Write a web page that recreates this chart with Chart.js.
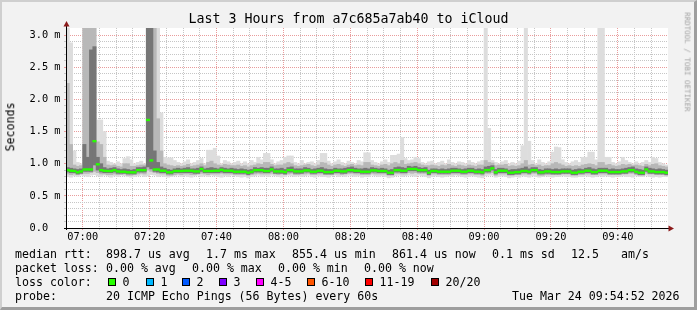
<!DOCTYPE html>
<html lang="en">
<head>
  <meta charset="UTF-8">
  <title>Last 3 Hours from a7c685a7ab40 to iCloud</title>
  <script src="https://cdn.jsdelivr.net/npm/chart.js"></script>
  <style>
    html, body { margin: 0; padding: 0; width: 697px; height: 310px; overflow: hidden; }
    #frame { position: absolute; left: 0; top: 0; width: 697px; height: 310px; box-sizing: border-box;
             background: #f2f2f2; border-style: solid; border-width: 2px 3px 3px 2px;
             border-color: #cfcfcf #9e9e9e #9e9e9e #cfcfcf; }
    #chart { position: absolute; left: 0; top: 0; }
    .t { position: absolute; font-family: 'DejaVu Sans Mono', monospace; font-size: 11.6px; line-height: 1; white-space: pre; color: #000; }
    .box { position: absolute; width: 8px; height: 8px; box-sizing: border-box; border: 1px solid #000; top: 278px; }
  </style>
</head>
<body>
  <div id="frame"></div>
  <canvas id="chart" width="697" height="310"></canvas>

  <div class="t" style="left:0; width:697px; text-align:center; top:12.4px; font-size:13.3px;">Last 3 Hours from a7c685a7ab40 to iCloud</div>
  <div class="t" style="left:10.5px; top:127px; transform:translate(-50%,-50%) rotate(-90deg);">Seconds</div>
  <div class="t" style="left:686.5px; top:62px; font-size:7.5px; color:#a4a4a4; transform:translate(-50%,-50%) rotate(90deg);">RRDTOOL / TOBI OETIKER</div>

  <!-- legend -->
  <div class="t" style="left:15px; top:249px;">median rtt:</div>
  <div class="t" style="left:106px; top:249px;">898.7 us avg</div>
  <div class="t" style="left:206px; top:249px;">1.7 ms max</div>
  <div class="t" style="left:292px; top:249px;">855.4 us min</div>
  <div class="t" style="left:392px; top:249px;">861.4 us now</div>
  <div class="t" style="left:492px; top:249px;">0.1 ms sd</div>
  <div class="t" style="left:571px; top:249px;">12.5</div>
  <div class="t" style="left:621px; top:249px;">am/s</div>

  <div class="t" style="left:15px; top:263px;">packet loss:</div>
  <div class="t" style="left:106px; top:263px;">0.00 % avg</div>
  <div class="t" style="left:192px; top:263px;">0.00 % max</div>
  <div class="t" style="left:278px; top:263px;">0.00 % min</div>
  <div class="t" style="left:364px; top:263px;">0.00 % now</div>

  <div class="t" style="left:15px; top:277px;">loss color:</div>
  <div id="lossLegend"></div>

  <div class="t" style="left:15px; top:290.8px;">probe:</div>
  <div class="t" style="left:106px; top:290.8px;">20 ICMP Echo Pings (56 Bytes) every 60s</div>
  <div class="t" style="left:512px; top:290.8px;">Tue Mar 24 09:54:52 2026</div>

  <script>
    // one value per minute, starting 06:55 (ms)
    const median = [
      0.90,0.89,0.886,0.866,0.88,0.91,0.91,0.91,1.35,0.99,
      0.90,0.89,0.886,0.886,0.90,0.88,0.875,0.875,0.866,0.866,
      0.866,0.90,0.90,0.90,1.68,1.05,0.91,0.91,0.89,0.89,
      0.866,0.866,0.886,0.886,0.886,0.89,0.89,0.89,0.88,0.88,
      0.917,0.886,0.886,0.886,0.89,0.89,0.905,0.89,0.89,0.89,
      0.875,0.875,0.875,0.875,0.86,0.875,0.90,0.90,0.90,0.886,
      0.886,0.91,0.88,0.88,0.88,0.87,0.90,0.90,0.88,0.88,
      0.88,0.895,0.895,0.875,0.875,0.89,0.89,0.87,0.87,0.87,
      0.89,0.89,0.88,0.88,0.90,0.90,0.89,0.89,0.875,0.875,
      0.875,0.895,0.895,0.886,0.886,0.886,0.86,0.86,0.90,0.90,
      0.89,0.89,0.917,0.917,0.917,0.90,0.90,0.90,0.86,0.886,
      0.886,0.875,0.875,0.875,0.875,0.89,0.89,0.89,0.875,0.875,
      0.89,0.89,0.875,0.875,0.866,0.90,0.90,0.928,0.866,0.89,
      0.89,0.89,0.86,0.86,0.87,0.87,0.886,0.886,0.875,0.90,
      0.90,0.866,0.866,0.88,0.88,0.87,0.87,0.87,0.88,0.88,
      0.88,0.86,0.86,0.875,0.875,0.89,0.89,0.87,0.87,0.89,
      0.89,0.89,0.87,0.87,0.87,0.87,0.88,0.88,0.90,0.90,
      0.875,0.86,0.86,0.91,0.88,0.88,0.87,0.87,0.87,0.86
    ];
    const smokeMin = [
      0.80,0.79,0.81,0.80,0.82,0.81,0.80,0.82,0.83,0.81,
      0.80,0.82,0.81,0.79,0.81,0.80,0.82,0.81,0.80,0.79,
      0.80,0.81,0.82,0.80,0.81,0.83,0.82,0.80,0.81,0.80,
      0.79,0.80,0.81,0.82,0.80,0.81,0.80,0.79,0.81,0.82,
      0.80,0.81,0.80,0.82,0.81,0.80,0.79,0.81,0.80,0.82,
      0.81,0.80,0.79,0.80,0.78,0.80,0.81,0.82,0.80,0.81,
      0.80,0.82,0.81,0.80,0.79,0.80,0.82,0.81,0.80,0.81,
      0.80,0.81,0.82,0.80,0.79,0.81,0.80,0.80,0.79,0.81,
      0.82,0.80,0.81,0.80,0.82,0.81,0.80,0.81,0.79,0.80,
      0.80,0.82,0.81,0.80,0.81,0.80,0.78,0.79,0.81,0.82,
      0.80,0.81,0.82,0.81,0.80,0.82,0.81,0.80,0.78,0.80,
      0.81,0.80,0.79,0.80,0.81,0.80,0.82,0.81,0.80,0.79,
      0.80,0.81,0.80,0.79,0.78,0.81,0.82,0.82,0.79,0.80,
      0.81,0.80,0.78,0.79,0.80,0.79,0.81,0.80,0.79,0.81,
      0.80,0.79,0.80,0.81,0.80,0.79,0.80,0.80,0.81,0.80,
      0.80,0.79,0.79,0.80,0.80,0.81,0.80,0.79,0.80,0.81,
      0.80,0.81,0.80,0.79,0.80,0.80,0.81,0.80,0.80,0.79,
      0.81,0.80,0.80,0.82,0.80,0.79,0.80,0.79,0.80,0.80
    ];
    const smokeMax = [
      3.3,2.88,1.2,1.02,1.0,3.3,3.3,3.3,3.3,1.68,
      1.68,1.5,1.04,1.02,1.0,1.03,1.0,1.08,1.11,1.06,
      1.0,1.02,1.04,1.0,3.3,3.3,3.3,3.3,1.79,1.1,
      1.09,1.09,1.05,1.02,1.0,1.03,1.06,1.0,1.02,1.05,
      1.08,1.0,1.21,1.21,1.24,1.12,1.0,1.05,1.03,1.0,
      1.02,1.04,1.0,1.03,1.0,1.05,1.02,1.1,1.06,1.16,
      1.16,1.06,1.0,1.03,1.05,1.1,1.12,1.12,1.02,1.0,
      1.05,1.0,1.02,1.03,1.0,1.05,1.16,1.16,1.04,1.0,
      1.03,1.06,1.02,1.0,1.04,1.02,1.0,1.05,1.03,1.17,
      1.17,1.05,1.02,1.0,1.03,1.06,1.02,1.13,1.13,1.15,
      1.41,1.08,1.05,1.06,1.1,1.08,1.02,1.0,1.03,1.04,
      1.0,1.02,1.04,1.0,1.06,1.02,1.0,1.03,1.02,1.0,
      1.05,1.02,1.0,1.03,1.05,3.3,1.55,1.05,1.02,1.0,
      1.03,1.05,1.0,1.02,1.0,1.04,1.28,3.3,1.35,1.05,
      1.0,1.06,1.02,1.0,1.03,1.18,1.26,1.25,1.06,1.02,
      1.0,1.03,1.05,1.02,1.1,1.1,1.18,1.18,1.06,3.3,
      3.3,1.1,1.1,1.02,1.0,1.03,1.1,1.05,1.02,1.0,
      1.03,1.0,1.02,1.05,1.02,1.1,1.08,1.02,1.0,0.98
    ];
    const bandLo = [
      0.84,0.83,0.84,0.83,0.84,0.85,0.85,0.86,0.88,0.86,
      0.84,0.84,0.83,0.83,0.84,0.83,0.83,0.84,0.82,0.82,
      0.83,0.84,0.85,0.84,0.90,0.88,0.86,0.85,0.84,0.84,
      0.82,0.82,0.83,0.84,0.83,0.84,0.84,0.83,0.83,0.84,
      0.85,0.84,0.83,0.84,0.84,0.84,0.85,0.84,0.84,0.84,
      0.83,0.83,0.83,0.83,0.82,0.83,0.84,0.85,0.84,0.84,
      0.84,0.85,0.84,0.83,0.84,0.83,0.84,0.85,0.83,0.83,
      0.84,0.84,0.85,0.83,0.83,0.84,0.84,0.83,0.83,0.83,
      0.84,0.84,0.83,0.84,0.85,0.85,0.84,0.84,0.83,0.83,
      0.83,0.85,0.84,0.84,0.84,0.84,0.82,0.82,0.85,0.85,
      0.84,0.84,0.86,0.85,0.86,0.85,0.85,0.85,0.82,0.84,
      0.84,0.83,0.83,0.83,0.83,0.84,0.84,0.84,0.83,0.83,
      0.84,0.84,0.83,0.83,0.82,0.85,0.85,0.86,0.82,0.84,
      0.84,0.84,0.82,0.82,0.83,0.83,0.84,0.84,0.83,0.85,
      0.85,0.82,0.82,0.83,0.83,0.83,0.83,0.83,0.84,0.84,
      0.84,0.82,0.82,0.83,0.83,0.84,0.84,0.83,0.83,0.84,
      0.84,0.84,0.83,0.83,0.83,0.83,0.84,0.84,0.85,0.85,
      0.83,0.82,0.82,0.85,0.84,0.84,0.83,0.83,0.83,0.82
    ];
    const bandHi = [
      2.25,1.30,0.98,0.96,0.97,3.30,3.30,3.30,3.30,1.34,
      1.30,1.10,0.98,0.97,0.98,0.96,0.95,1.00,1.00,0.96,
      0.96,0.97,0.98,0.98,3.30,3.30,3.30,1.70,1.20,1.00,
      0.98,0.97,0.96,0.97,0.96,0.97,0.99,0.96,0.97,0.98,
      1.00,0.97,1.02,1.04,1.00,0.98,0.97,0.99,0.98,0.97,
      0.97,0.98,0.96,0.97,0.95,0.97,0.98,1.00,0.99,1.02,
      1.02,0.99,0.97,0.98,0.98,1.00,1.02,1.00,0.97,0.96,
      0.97,0.98,0.99,0.97,0.96,0.98,1.02,1.01,0.98,0.96,
      0.98,0.99,0.97,0.96,0.98,0.99,0.97,0.98,0.97,1.02,
      1.02,0.98,0.97,0.96,0.98,0.99,0.97,1.00,1.02,1.00,
      1.05,0.99,1.00,1.01,1.02,1.00,0.98,0.97,0.97,0.98,
      0.97,0.96,0.98,0.97,0.99,0.97,0.96,0.98,0.97,0.96,
      0.98,0.97,0.96,0.98,0.98,1.05,1.02,1.01,0.97,0.98,
      0.98,0.99,0.96,0.97,0.96,0.97,1.00,1.05,0.98,0.99,
      0.97,0.98,0.96,0.97,0.97,1.00,1.02,1.00,0.98,0.96,
      0.97,0.96,0.97,0.96,0.98,0.99,1.00,0.99,0.97,1.02,
      1.02,0.98,0.99,0.97,0.96,0.97,0.99,0.98,0.99,0.97,
      0.98,0.97,0.96,0.99,0.97,0.99,1.00,0.97,0.96,0.95
    ];
    const coreLo = [
      0.87,0.86,0.86,0.84,0.85,0.88,0.88,0.88,0.98,0.90,
      0.87,0.86,0.86,0.86,0.87,0.85,0.85,0.85,0.84,0.84,
      0.84,0.87,0.87,0.87,0.95,0.92,0.88,0.87,0.86,0.86,
      0.84,0.84,0.86,0.86,0.86,0.86,0.86,0.86,0.85,0.85,
      0.88,0.86,0.86,0.86,0.86,0.86,0.87,0.86,0.86,0.86,
      0.85,0.85,0.85,0.85,0.83,0.85,0.87,0.87,0.87,0.86,
      0.86,0.88,0.85,0.85,0.85,0.84,0.87,0.87,0.85,0.85,
      0.85,0.87,0.87,0.85,0.85,0.86,0.86,0.84,0.84,0.84,
      0.86,0.86,0.85,0.85,0.87,0.87,0.86,0.86,0.85,0.85,
      0.85,0.87,0.87,0.86,0.86,0.86,0.83,0.83,0.87,0.87,
      0.86,0.86,0.89,0.89,0.89,0.87,0.87,0.87,0.83,0.86,
      0.86,0.85,0.85,0.85,0.85,0.86,0.86,0.86,0.85,0.85,
      0.86,0.86,0.85,0.85,0.84,0.87,0.87,0.90,0.84,0.86,
      0.86,0.86,0.83,0.83,0.84,0.84,0.86,0.86,0.85,0.87,
      0.87,0.84,0.84,0.85,0.85,0.84,0.84,0.84,0.85,0.85,
      0.85,0.83,0.83,0.85,0.85,0.86,0.86,0.84,0.84,0.86,
      0.86,0.86,0.84,0.84,0.84,0.84,0.85,0.85,0.87,0.87,
      0.85,0.83,0.83,0.88,0.85,0.85,0.84,0.84,0.84,0.83
    ];
    const coreHi = [
      0.94,0.93,0.92,0.91,0.92,1.30,1.10,2.77,2.82,1.10,
      1.00,0.94,0.92,0.93,0.94,0.92,0.91,0.92,0.91,0.90,
      0.91,0.94,0.94,0.95,3.30,3.30,1.20,1.02,0.95,0.93,
      0.91,0.90,0.92,0.93,0.92,0.93,0.94,0.92,0.92,0.93,
      0.95,0.92,0.93,0.94,0.93,0.92,0.94,0.93,0.92,0.93,
      0.92,0.91,0.92,0.91,0.90,0.91,0.94,0.93,0.94,0.93,
      0.93,0.95,0.92,0.92,0.93,0.91,0.94,0.95,0.92,0.92,
      0.92,0.94,0.93,0.91,0.92,0.93,0.94,0.92,0.91,0.91,
      0.93,0.92,0.92,0.93,0.94,0.95,0.93,0.92,0.92,0.93,
      0.92,0.94,0.93,0.92,0.93,0.92,0.90,0.91,0.94,0.95,
      0.94,0.93,0.96,0.95,0.96,0.94,0.93,0.94,0.90,0.92,
      0.92,0.91,0.92,0.91,0.92,0.93,0.93,0.92,0.91,0.92,
      0.93,0.93,0.91,0.92,0.91,0.95,0.96,0.97,0.91,0.93,
      0.93,0.92,0.90,0.91,0.91,0.92,0.93,0.95,0.92,0.94,
      0.94,0.91,0.90,0.92,0.92,0.91,0.92,0.91,0.92,0.92,
      0.92,0.90,0.91,0.92,0.91,0.93,0.94,0.92,0.91,0.93,
      0.93,0.93,0.91,0.92,0.91,0.91,0.92,0.93,0.94,0.95,
      0.92,0.91,0.90,0.95,0.93,0.92,0.91,0.92,0.91,0.90
    ];

    // axis ticks (x in minutes since 06:55)
    const timeTicks = [5, 25, 45, 65, 85, 105, 125, 145, 165];
    const timeLabels = ['07:00', '07:20', '07:40', '08:00', '08:20', '08:40', '09:00', '09:20', '09:40'];
    const yLabels = ['0.0  ', '0.5 m', '1.0 m', '1.5 m', '2.0 m', '2.5 m', '3.0 m'];

    // loss colour legend
    const lossNames = ['0', '1', '2', '3', '4-5', '6-10', '11-19', '20/20'];
    const lossColors = ['#26ff00', '#00b8ff', '#0059ff', '#7e00ff', '#ff00ff', '#ff5500', '#ff0000', '#a10000'];
    const lossBoxX = [108, 146, 182, 219, 256, 307, 365, 431];

    const legendEl = document.getElementById('lossLegend');
    lossNames.forEach((name, i) => {
      const b = document.createElement('div');
      b.className = 'box';
      b.style.left = lossBoxX[i] + 'px';
      b.style.background = lossColors[i];
      legendEl.appendChild(b);
      const t = document.createElement('div');
      t.className = 't';
      t.style.left = (lossBoxX[i] + 14.5) + 'px';
      t.style.top = '277px';
      t.textContent = name;
      legendEl.appendChild(t);
    });

    const range = (lo, hi) => lo.map((v, i) => ({ x: i + 0.5, y: [v, hi[i]] }));
    const medHalf = 0.013;

    const gridGray = '#c6c6c6';
    const gridRed = '#e99c9c';
    const axisFont = { family: 'DejaVu Sans Mono', size: 10.3 };

    const framePlugin = {
      id: 'frame',
      beforeDraw(chart) {
        const { ctx, chartArea: a } = chart;
        ctx.save();
        ctx.fillStyle = '#ffffff';
        ctx.fillRect(a.left, a.top, a.right - a.left, a.bottom - a.top);
        ctx.restore();
      },
      afterDraw(chart) {
        const { ctx, chartArea: a } = chart;
        ctx.save();
        ctx.strokeStyle = '#000';
        ctx.lineWidth = 1;
        ctx.beginPath();
        ctx.moveTo(a.left + 0.5, a.bottom + 2);
        ctx.lineTo(a.left + 0.5, a.top - 2);
        ctx.moveTo(a.left - 2, a.bottom + 0.5);
        ctx.lineTo(a.right + 1, a.bottom + 0.5);
        ctx.stroke();
        ctx.fillStyle = '#8b1a1a';
        ctx.beginPath();
        ctx.moveTo(a.left + 0.5, a.top - 7);
        ctx.lineTo(a.left - 2.5, a.top - 1.5);
        ctx.lineTo(a.left + 3.5, a.top - 1.5);
        ctx.fill();
        ctx.beginPath();
        ctx.moveTo(a.right + 6, a.bottom + 0.5);
        ctx.lineTo(a.right + 0.5, a.bottom - 2.5);
        ctx.lineTo(a.right + 0.5, a.bottom + 3.5);
        ctx.fill();
        ctx.restore();
      }
    };

    new Chart(document.getElementById('chart'), {
      type: 'bar',
      data: {
        datasets: [
          { data: median.map((v, i) => ({ x: i + 0.5, y: [v - medHalf, v + medHalf] })), backgroundColor: '#26ff00', order: 0 },
          { data: range(coreLo, coreHi), backgroundColor: '#767676', order: 1 },
          { data: range(bandLo, bandHi), backgroundColor: '#b8b8b8', order: 2 },
          { data: range(smokeMin, smokeMax), backgroundColor: '#dddddd', order: 3 }
        ]
      },
      options: {
        responsive: false,
        animation: false,
        devicePixelRatio: 1,
        layout: { padding: { top: 28, right: 29, bottom: 62, left: 0 } },
        datasets: { bar: { grouped: false, barPercentage: 1, categoryPercentage: 1, borderWidth: 0, clip: 0 } },
        plugins: { legend: { display: false }, tooltip: { enabled: false } },
        scales: {
          x: {
            type: 'linear', min: 0, max: 180, offset: false,
            grid: {
              offset: false, tickLength: 2,
              color: c => {
                const v = Math.round(c.tick.value);
                if (v === 0 || v === 180) return 'rgba(0,0,0,0)';
                return (v - 5) % 20 === 0 ? gridRed : gridGray;
              }
            },
            border: { display: false, dash: [1, 1] },
            ticks: {
              stepSize: 5, maxTicksLimit: 1000, autoSkip: false, maxRotation: 0, padding: 1, color: '#000', font: axisFont,
              callback: v => { const k = timeTicks.indexOf(Math.round(v)); return k >= 0 ? timeLabels[k] : ''; }
            },
            afterFit: s => { s.height = 20; }
          },
          y: {
            min: 0, max: 3.11,
            grid: {
              tickLength: 2,
              color: c => {
                const v = c.tick.value;
                if (v < 1e-6) return 'rgba(0,0,0,0)';
                return Math.abs(v * 2 - Math.round(v * 2)) < 1e-6 ? gridRed : gridGray;
              }
            },
            border: { display: false, dash: [1, 1] },
            ticks: {
              stepSize: 0.1, maxTicksLimit: 1000, autoSkip: false, padding: 3.5, color: '#000', font: axisFont,
              callback: v => { const k = Math.round(v * 2); return Math.abs(v * 2 - k) < 1e-6 ? yLabels[k] : ''; }
            },
            afterBuildTicks: s => { s.ticks = s.ticks.filter(t => Math.abs(t.value * 10 - Math.round(t.value * 10)) < 1e-6); },
            afterFit: s => { s.width = 66; }
          }
        }
      },
      plugins: [framePlugin]
    });
  </script>
</body>
</html>
